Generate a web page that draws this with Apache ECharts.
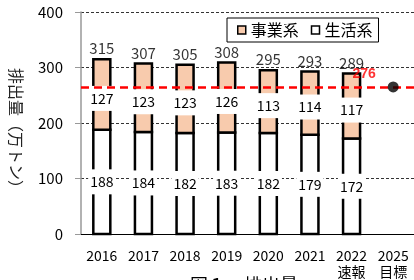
<!DOCTYPE html>
<html>
<head>
<meta charset="utf-8">
<script src="https://cdn.jsdelivr.net/npm/echarts@6/dist/echarts.min.js"></script>
<style>html,body{margin:0;padding:0;background:#fff;}#c{width:414px;height:280px;}</style>
</head>
<body>
<div id="c"></div>
<script>
var categories = ['2016', '2017', '2018', '2019', '2020', '2021', '2022\n速報', '2025\n目標'];
var seikatsu = [188, 184, 182, 183, 182, 179, 172, null];
var jigyou = [127, 123, 123, 126, 113, 114, 117, null];
var totals = [315, 307, 305, 308, 295, 293, 289, null];
var targetPlotted = [null, null, null, null, null, null, null, 265];
var targetLabel = '276';
var yTicks = { min: 0, max: 400, interval: 100 };

var FONT = '"Noto Sans CJK JP", "Noto Sans", sans-serif';
var chart = echarts.init(document.getElementById('c'), null, { renderer: 'canvas' });

// stacked segment data: [categoryIndex, bottom, top, value]
var seikatsuData = [], jigyouData = [];
for (var i = 0; i < categories.length; i++) {
  if (seikatsu[i] != null) seikatsuData.push([i, 0, seikatsu[i], seikatsu[i]]);
  if (jigyou[i] != null) jigyouData.push([i, seikatsu[i], seikatsu[i] + jigyou[i], jigyou[i]]);
}

function makeRender(fill, labelShift) {
  return function (params, api) {
    var x = api.value(0), b = api.value(1), t = api.value(2), v = api.value(3);
    var pb = api.coord([x, b]), pt = api.coord([x, t]);
    var w = 17;
    return {
      type: 'group',
      children: [
        {
          type: 'rect',
          shape: { x: pb[0] - w / 2, y: pt[1], width: w, height: pb[1] - pt[1] },
          style: { fill: fill, stroke: '#000', lineWidth: 2.5 }
        },
        {
          type: 'text', z2: 20,
          x: pb[0], y: (pb[1] + pt[1]) / 2 + labelShift,
          style: {
            text: String(v), fill: '#000', fontSize: 14, fontFamily: FONT,
            align: 'center', verticalAlign: 'middle',
            backgroundColor: '#fff', padding: [5, 2], lineHeight: 15
          }
        }
      ]
    };
  };
}

chart.setOption({
  animation: false,
  textStyle: { fontFamily: FONT },
  grid: { left: 81, top: 12, right: -2, bottom: 43, containLabel: false },
  legend: {
    data: ['事業系', '生活系'],
    left: 227, top: 18,
    padding: [4, 6, 4, 10],
    itemWidth: 8, itemHeight: 8, itemGap: 12,
    icon: 'rect',
    backgroundColor: '#fff', borderColor: '#000', borderWidth: 1,
    itemStyle: { borderColor: '#000', borderWidth: 1.5 },
    textStyle: { fontSize: 16, color: '#000', fontFamily: FONT }
  },
  graphic: [
    {
      type: 'text', x: 16, y: 132, rotation: -Math.PI / 2,
      style: { text: '排出量（万トン）', fontSize: 16, fontFamily: FONT, fill: '#222', align: 'center', verticalAlign: 'middle' }
    },
    {
      type: 'text', x: 190, y: 276,
      style: { text: '図１　排出量', fontSize: 18, fontFamily: FONT, fill: '#000', align: 'left', verticalAlign: 'top' }
    }
  ],
  xAxis: {
    type: 'category', data: categories,
    axisLine: { lineStyle: { color: '#000', width: 1 } },
    axisTick: { show: false },
    axisLabel: { color: '#000', fontSize: 14, margin: 14, lineHeight: 16, fontFamily: FONT }
  },
  yAxis: {
    type: 'value', min: yTicks.min, max: yTicks.max, interval: yTicks.interval,
    axisLine: { show: true, lineStyle: { color: '#999', width: 1.5 } },
    axisTick: { show: true, length: 6, lineStyle: { color: '#999' } },
    axisLabel: { color: '#000', fontSize: 15, margin: 18, fontFamily: FONT },
    splitLine: { show: true, lineStyle: { color: '#333', width: 1, type: [3, 2] } }
  },
  series: [
    {
      name: '生活系', type: 'custom', data: seikatsuData, z: 2,
      encode: { x: 0, y: [1, 2] },
      itemStyle: { color: '#fff' },
      renderItem: makeRender('#fff', 0)
    },
    {
      name: '事業系', type: 'custom', data: jigyouData, z: 3,
      encode: { x: 0, y: [1, 2] },
      itemStyle: { color: '#F8CBAD' },
      renderItem: makeRender('#F8CBAD', 4)
    },
    {
      name: '合計', type: 'scatter', data: totals, symbolSize: 0, z: 5,
      label: { show: true, position: 'top', distance: 3, color: '#000', fontSize: 15, fontFamily: FONT }
    },
    {
      name: '目標', type: 'scatter', data: targetPlotted, symbol: 'circle', symbolSize: 11, z: 10,
      itemStyle: { color: '#000' },
      label: {
        show: true, position: 'top', distance: 0, offset: [-29, 0],
        formatter: function () { return targetLabel; },
        color: '#FF0000', fontWeight: 'bold', fontSize: 14, fontFamily: '"Liberation Sans", sans-serif'
      },
      markLine: {
        silent: true, symbol: 'none', z: 9,
        label: { show: false },
        lineStyle: { color: '#FF0000', width: 2.5, type: [8, 5] },
        data: [{ yAxis: 265 }]
      }
    }
  ]
});
</script>
</body>
</html>
